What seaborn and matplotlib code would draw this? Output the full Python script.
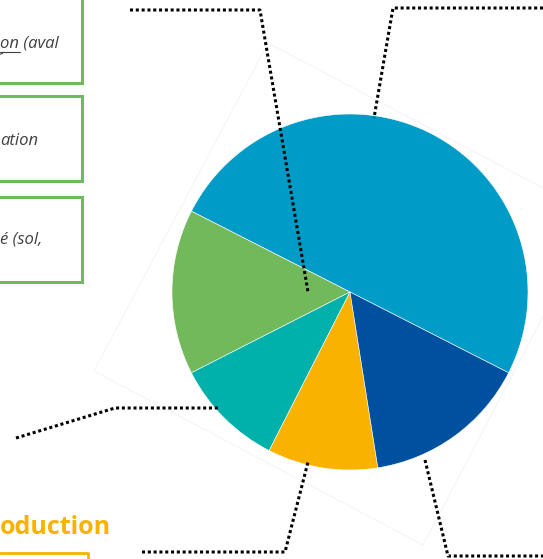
import matplotlib.pyplot as plt
import matplotlib.patches as mpatches
import seaborn as sns

# pie shares, counter-clockwise from the light blue slice
segments = ['Bleu clair', 'Vert', 'Turquoise', 'Jaune', 'Bleu foncé']
shares = [50, 15, 10, 10, 15]
colors = ['#009BC6', '#72B95B', '#00B0AA', '#F9B200', '#0050A0']

# partial box labels (cut by the crop on the left)
box_labels = ['on (aval', 'ation', 'é (sol,']
title_text = 'oduction'

sns.set_theme(style='white')
plt.rcParams['font.family'] = ['Open Sans', 'DejaVu Sans']

W, H = 543, 559
fig = plt.figure(figsize=(W / 100, H / 100), dpi=100)
ax = fig.add_axes([0, 0, 1, 1])


def Y(y):
    # picture rows run top-down
    return H - y


# faint rotated frame behind the pie
frame = [(268, 43), (596, 216), (423, 545), (94, 371), (268, 43)]
ax.plot([p[0] for p in frame], [Y(p[1]) for p in frame], color='#f4f4f4', lw=0.7, zorder=0)

ax.pie(shares, colors=colors, startangle=-27, counterclock=True,
       center=(350, Y(292)), radius=178, frame=True,
       wedgeprops=dict(edgecolor='white', linewidth=0.4))
ax.set_xlim(0, W)
ax.set_ylim(0, H)
ax.set_aspect('equal')
ax.axis('off')

# dotted leader lines
dot = dict(color='black', lw=2.2, linestyle=(0, (1, 0.9)), zorder=5,
           solid_capstyle='butt')
leaders = [
    [(130, 10), (260, 10), (308, 292)],
    [(543, 8), (393, 8), (374, 118)],
    [(16, 438), (115, 408), (218, 408)],
    [(142, 552), (285, 552), (308, 462)],
    [(425, 460), (448, 556), (543, 556)],
]
for pts in leaders:
    ax.plot([p[0] for p in pts], [Y(p[1]) for p in pts], **dot)

# green bordered text boxes
green = '#72B95B'
for top, bottom in [(-10, 83), (96, 181), (197, 282)]:
    ax.add_patch(mpatches.Rectangle((-10, Y(bottom)), 92, bottom - top,
                                    fill=False, edgecolor=green, lw=2.2, zorder=4))

txt = dict(fontsize=12, style='italic', color='#404040', va='center', ha='left')
ax.text(0, Y(44), box_labels[0], **txt)
ax.plot([0, 20], [Y(52), Y(52)], color='#404040', lw=0.8)
ax.text(-4, Y(58), 'r', **txt)
ax.text(0, Y(141), box_labels[1], **txt)
ax.text(0, Y(240), box_labels[2], **txt)

ax.text(0, Y(527), title_text, fontsize=18, fontweight='bold', color='#F9B200',
        va='center', ha='left')
ax.plot([0, 88, 88], [Y(553), Y(553), Y(562)], color='#F9B200', lw=2)

fig.savefig('out.png', dpi=100)
